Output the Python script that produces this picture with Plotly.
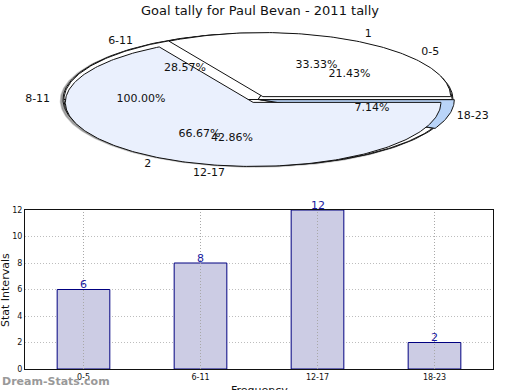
import numpy as np
import plotly.graph_objects as go

# ---------------- data ----------------
chart_title = "Goal tally for Paul Bevan - 2011 tally"
cat_labels = ["0-5", "6-11", "12-17", "18-23"]
cat_values = [6, 8, 12, 2]
split_labels = ["1", "2"]
split_values = [1, 2]
whole_labels = ["8-11"]
whole_values = [1]
y_tick_vals = [0, 2, 4, 6, 8, 10, 12]
x_title = "Frequency"
y_title = "Stat Intervals"
watermark = "Dream-Stats.com"

# ---------------- geometry / style ----------------
W, H = 520, 390
CX, CY, RX, RY = 258, 99.5, 195, 66.5   # pie ellipse in pixel coords of the top axes
FONT = "DejaVu Sans"
DOT = "1px,2px"

fig = go.Figure()


def wedge(t0, t1, r, explode, dx=0.0, dy=0.0):
    mid = np.radians((t0 + t1) / 2)
    ox = explode * RX * np.cos(mid) + dx
    oy = -explode * RY * np.sin(mid) + dy
    n = max(int(abs(t1 - t0)), 4) + 1
    t = np.radians(np.linspace(t0, t1, n))
    xs = CX + ox + RX * r * np.cos(t)
    ys = CY + oy - RY * r * np.sin(t)
    if abs(t1 - t0) < 359.999:
        xs = np.concatenate([[CX + ox], xs, [CX + ox]])
        ys = np.concatenate([[CY + oy], ys, [CY + oy]])
    return xs, ys


def add_pie(labels, values, colors, r, explode, lab_r=1.13, pct_r=0.6):
    total = float(sum(values))
    start = 0.0
    lx, ly, lt, px, py, pt = [], [], [], [], [], []
    for lab, v, c, ex in zip(labels, values, colors, explode):
        span = 360.0 * v / total
        xs, ys = wedge(start, start + span, r, ex)
        fig.add_trace(go.Scatter(x=xs, y=ys, mode="lines", fill="toself",
                                 fillcolor=c, line=dict(color="#111111", width=1),
                                 hoverinfo="skip", showlegend=False,
                                 xaxis="x2", yaxis="y2"))
        mid = np.radians(start + span / 2)
        lx.append(CX + RX * lab_r * np.cos(mid)); ly.append(CY - RY * lab_r * np.sin(mid)); lt.append(lab)
        px.append(CX + RX * pct_r * np.cos(mid)); py.append(CY - RY * pct_r * np.sin(mid))
        pt.append("%.2f%%" % (100.0 * v / total))
        start += span
    return lx, ly, lt, px, py, pt


# shadow of the outer pie
sx, sy = wedge(0, 360, 1.0, 0.0, dx=-2.5, dy=1)
fig.add_trace(go.Scatter(x=sx, y=sy, mode="lines", fill="toself",
                         fillcolor="rgba(90,90,90,0.55)", line=dict(color="rgba(120,120,120,0.4)", width=1.5),
                         hoverinfo="skip", showlegend=False, xaxis="x2", yaxis="y2"))

texts = []
texts.append(add_pie(whole_labels, whole_values, ["#ffffff"], 1.0, [0.0]))
texts.append(add_pie(cat_labels, cat_values, ["#ffffff", "#ffffff", "#ffffff", "#b9d4f8"],
                     0.995, [0.0, 0.0, 0.0, 0.012]))
texts.append(add_pie(split_labels, split_values, ["#ffffff", "#eaf0fd"], 0.963, [0.05, 0.05]))

for lx, ly, lt, px, py, pt in texts:
    fig.add_trace(go.Scatter(x=lx, y=ly, text=lt, mode="text",
                             textfont=dict(family=FONT, size=11, color="#111111"),
                             hoverinfo="skip", showlegend=False, xaxis="x2", yaxis="y2"))
    fig.add_trace(go.Scatter(x=px, y=py, text=pt, mode="text",
                             textfont=dict(family=FONT, size=11, color="#111111"),
                             hoverinfo="skip", showlegend=False, xaxis="x2", yaxis="y2"))

# ---------------- bar chart ----------------
fig.add_trace(go.Bar(x=cat_labels, y=cat_values, width=0.45,
                     marker=dict(color="#ccccE4", line=dict(color="#000080", width=1)),
                     showlegend=False, hoverinfo="skip"))

value_notes = [dict(x=c, y=v, xref="x", yref="y", text=str(v), showarrow=False,
                    xanchor="center", yanchor="middle", yshift=5,
                    font=dict(family=FONT, size=11, color="#1a1aa0"))
               for c, v in zip(cat_labels, cat_values)]

# vertical category grid drawn over the bars (as in the reference)
vgrid = [dict(type="line", xref="x", yref="y domain", x0=c, x1=c, y0=0, y1=1,
              line=dict(color="#a8a8a8", width=1, dash=DOT), layer="above")
         for c in cat_labels]

px0, px1 = 25, 493
py0, py1 = 210, 369
fig.update_layout(
    width=W, height=H,
    margin=dict(l=0, r=0, t=0, b=0, pad=0, autoexpand=False),
    paper_bgcolor="white", plot_bgcolor="white",
    font=dict(family=FONT, size=11, color="#111111"),
    title=dict(text=chart_title, x=0.5, xanchor="center", y=1 - 10 / H, yanchor="middle",
               yref="container", automargin=False,
               font=dict(family=FONT, size=13, color="#111111")),
    xaxis=dict(domain=[px0 / W, px1 / W], type="category", range=[-0.5, 3.5], automargin=False,
               showline=True, linecolor="#111111", linewidth=1, mirror=True,
               showgrid=False,
               ticks="", tickfont=dict(family=FONT, size=8, color="#111111"),
               zeroline=False, anchor="y"),
    yaxis=dict(domain=[(H - py1) / H, (H - py0) / H], range=[0, 12], automargin=False,
               tickvals=y_tick_vals, showline=True, linecolor="#111111", linewidth=1, mirror=True,
               ticks="",
               showgrid=True, gridcolor="#bdbdbd", griddash=DOT, gridwidth=1,
               tickfont=dict(family=FONT, size=8, color="#111111"),
               zeroline=False, anchor="x"),
    xaxis2=dict(domain=[0, 1], range=[0, W], visible=False, anchor="y2", automargin=False),
    yaxis2=dict(domain=[1 - 200 / H, 1], range=[200, 0], visible=False, anchor="x2", automargin=False),
    shapes=vgrid,
    annotations=value_notes + [
        dict(text=y_title, x=5 / W, y=(H - 290) / H, xref="paper", yref="paper",
             textangle=-90, showarrow=False, xanchor="center", yanchor="middle",
             font=dict(family=FONT, size=11, color="#111111")),
        dict(text=x_title, x=259 / W, y=(H - 390) / H, xref="paper", yref="paper",
             showarrow=False, xanchor="center", yanchor="middle",
             font=dict(family=FONT, size=11, color="#111111")),
        dict(text="<b>" + watermark + "</b>", x=0, y=(H - 381) / H, xref="paper", yref="paper",
             showarrow=False, xanchor="left", yanchor="middle",
             font=dict(family=FONT, size=11, color="#999999")),
    ],
)

fig.write_html("out.html", config={"displayModeBar": False},
               post_script="document.body.style.margin='0';")
